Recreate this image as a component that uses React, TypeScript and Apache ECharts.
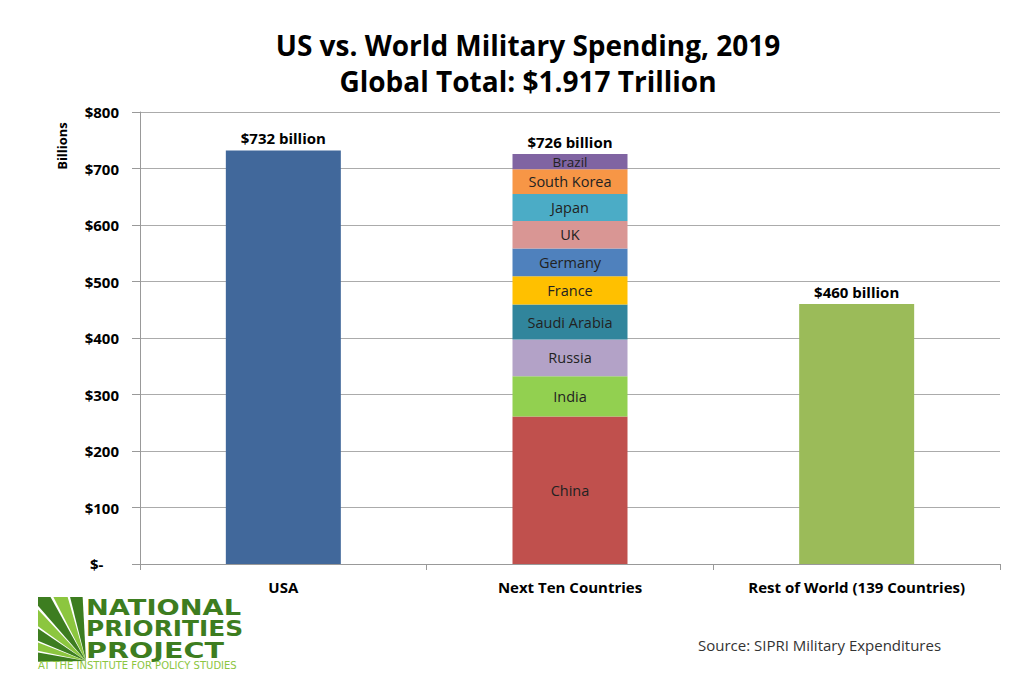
import React, { useEffect, useRef } from "react";
import * as echarts from "echarts";

const categories = ["USA", "Next Ten Countries", "Rest of World (139 Countries)"];
const usaValue = 732;
const restValue = 460;
const countries = ["China", "India", "Russia", "Saudi Arabia", "France", "Germany", "UK", "Japan", "South Korea", "Brazil"];
const countryValues = [261, 71.1, 65.1, 61.9, 50.1, 49.3, 48.7, 47.6, 43.9, 26.9];
const countryColors = ["#C0504D", "#92D050", "#B3A2C7", "#31859C", "#FFC000", "#4F81BD", "#D99694", "#4BACC6", "#F79646", "#8064A2"];
const totalLabels = ["$732 billion", "$726 billion", "$460 billion"];

const FONT = "'Open Sans', 'Noto Sans', sans-serif";

function rayPoint(cx: number, cy: number, deg: number, left: number, top: number) {
  const a = (deg * Math.PI) / 180;
  const dx = Math.cos(a);
  const dy = -Math.sin(a);
  let t = Infinity;
  let edge = "";
  if (dx < -1e-6) {
    const tl = (left - cx) / dx;
    if (tl < t) { t = tl; edge = "left"; }
  }
  if (dy < -1e-6) {
    const tt = (top - cy) / dy;
    if (tt < t) { t = tt; edge = "top"; }
  }
  return { p: [cx + t * dx, cy + t * dy], edge };
}

export default function App() {
  const ref = useRef<HTMLDivElement>(null);
  useEffect(() => {
    if (!ref.current) return;
    const chart = echarts.init(ref.current, null, { renderer: "svg" });

    const countrySeries = countries.map((name, i) => ({
      name,
      type: "bar",
      stack: "total",
      barWidth: 115,
      data: [null, countryValues[i], null],
      itemStyle: { color: countryColors[i] },
      label: {
        show: true,
        position: "inside",
        formatter: name,
        color: "#222",
        fontFamily: FONT,
        fontSize: name === "Brazil" ? 13.5 : 14.5,
        lineHeight: name === "Brazil" ? 14 : 18,
      },
    }));

    // logo rays, clipped to the icon box
    const L = 38, T = 597, cx = 86, cy = 661;
    const wedges: [number, number, string][] = [
      [93, 104, "#3D7D20"],
      [106, 117, "#8CC63F"],
      [119, 131, "#3D7D20"],
      [133, 144, "#8CC63F"],
      [146, 157, "#3D7D20"],
      [159, 168, "#8CC63F"],
      [170, 181, "#3D7D20"],
    ];
    const rays = wedges.map(([a1, a2, col]) => {
      const r1 = rayPoint(cx, cy, a1, L, T);
      const r2 = rayPoint(cx, cy, a2, L, T);
      const pts: number[][] = [[cx, cy], r1.p];
      if (r1.edge !== r2.edge) pts.push([L, T]);
      pts.push(r2.p);
      return { type: "polygon", shape: { points: pts }, style: { fill: col } };
    });

    const labelTop = (text: string) => ({
      show: true,
      position: "top",
      formatter: text,
      color: "#000",
      fontFamily: FONT,
      fontWeight: "bold",
      fontSize: 15,
      distance: 5,
    });

    chart.setOption({
      animation: false,
      grid: { left: 140, right: 14, top: 112, bottom: 124, containLabel: false },
      xAxis: {
        type: "category",
        data: categories,
        axisLine: { lineStyle: { color: "#999", width: 1 } },
        axisTick: { show: true, length: 6, lineStyle: { color: "#999" } },
        axisLabel: { color: "#000", fontFamily: FONT, fontWeight: "bold", fontSize: 15, margin: 15 },
      },
      yAxis: {
        type: "value",
        min: 0,
        max: 800,
        interval: 100,
        axisLine: { show: true, lineStyle: { color: "#999" } },
        axisTick: { show: true, length: 8, lineStyle: { color: "#999" } },
        splitLine: { lineStyle: { color: "#ABABAB" } },
        axisLabel: {
          color: "#000",
          fontFamily: FONT,
          fontWeight: "bold",
          fontSize: 15,
          margin: 21,
          formatter: (v: number) => (v === 0 ? "$-    " : "$" + v),
        },
      },
      series: [
        {
          name: "USA",
          type: "bar",
          stack: "total",
          barWidth: 115,
          data: [usaValue, null, null],
          itemStyle: { color: "#41689B" },
          label: labelTop(totalLabels[0]),
        },
        ...countrySeries,
        {
          name: "Rest",
          type: "bar",
          stack: "total",
          barWidth: 115,
          data: [null, null, restValue],
          itemStyle: { color: "#9BBB59" },
          label: labelTop(totalLabels[2]),
        },
        {
          name: "NextTotal",
          type: "bar",
          stack: "total",
          barWidth: 115,
          data: [null, 0, null],
          itemStyle: { color: "transparent" },
          label: labelTop(totalLabels[1]),
        },
      ],
      graphic: [
        {
          type: "text",
          x: 528,
          y: 45,
          style: {
            text: "US vs. World Military Spending, 2019",
            fontFamily: FONT,
            fontWeight: "bold",
            fontSize: 28,
            fill: "#000",
            align: "center",
            verticalAlign: "middle",
          },
        },
        {
          type: "text",
          x: 528,
          y: 81,
          style: {
            text: "Global Total: $1.917 Trillion",
            fontFamily: FONT,
            fontWeight: "bold",
            fontSize: 28,
            fill: "#000",
            align: "center",
            verticalAlign: "middle",
          },
        },
        {
          type: "text",
          x: 62,
          y: 146,
          rotation: Math.PI / 2,
          style: {
            text: "Billions",
            fontFamily: FONT,
            fontWeight: "bold",
            fontSize: 13,
            fill: "#000",
            align: "center",
            verticalAlign: "middle",
          },
        },
        {
          type: "group",
          children: [
            ...rays,
            {
              type: "text",
              x: 86,
              y: 607,
              scaleX: 1.24,
              style: { text: "NATIONAL", fontFamily: "DejaVu Sans", fontWeight: "bold", fontSize: 22, fill: "#3D7D20", verticalAlign: "middle" },
            },
            {
              type: "text",
              x: 86,
              y: 628.5,
              scaleX: 1.13,
              style: { text: "PRIORITIES", fontFamily: "DejaVu Sans", fontWeight: "bold", fontSize: 22, fill: "#3D7D20", verticalAlign: "middle" },
            },
            {
              type: "text",
              x: 86,
              y: 650,
              scaleX: 1.3,
              style: { text: "PROJECT", fontFamily: "DejaVu Sans", fontWeight: "bold", fontSize: 22, fill: "#3D7D20", verticalAlign: "middle" },
            },
            {
              type: "text",
              x: 38,
              y: 665,
              style: { text: "AT THE INSTITUTE FOR POLICY STUDIES", fontFamily: "DejaVu Sans", fontSize: 10, fill: "#8CC63F", verticalAlign: "middle" },
            },
          ],
        },
        {
          type: "text",
          x: 698,
          y: 645,
          style: {
            text: "Source: SIPRI Military Expenditures",
            fontFamily: FONT,
            fontSize: 15,
            fill: "#333",
            verticalAlign: "middle",
          },
        },
      ],
    } as any);
    return () => chart.dispose();
  }, []);
  return (
    <div
      ref={ref}
      style={{ position: "absolute", left: 0, top: 0, width: 1014, height: 688, background: "#fff" }}
    />
  );
}
